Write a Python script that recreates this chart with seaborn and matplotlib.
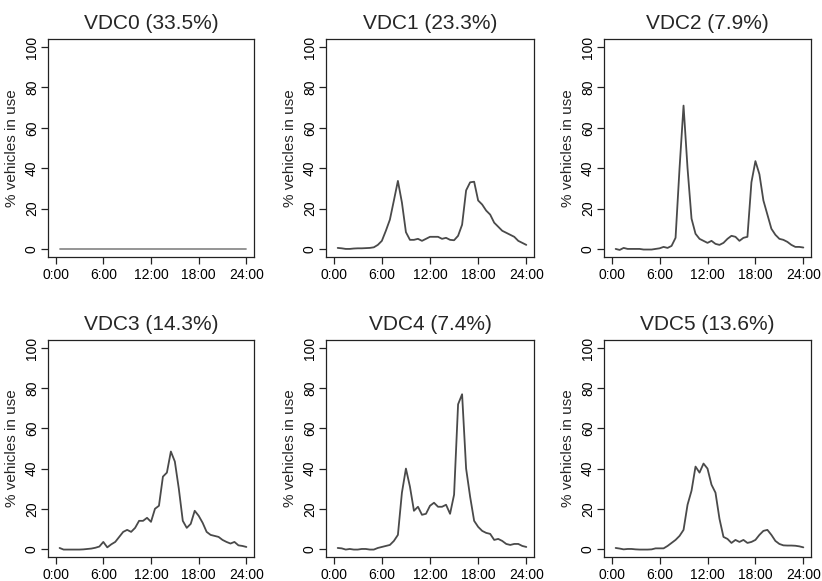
import numpy as np
import pandas as pd
import matplotlib
matplotlib.use("Agg")
import matplotlib.pyplot as plt
import seaborn as sns

hours = [0.5 * i for i in range(1, 49)]

titles = ["VDC0 (33.5%)", "VDC1 (23.3%)", "VDC2 (7.9%)",
          "VDC3 (14.3%)", "VDC4 (7.4%)", "VDC5 (13.6%)"]

vdc0 = [0.0] * 48

vdc1 = [0.5, 0.3, 0.0, 0.0, 0.2, 0.3, 0.3, 0.4, 0.5, 0.8, 2.0, 4.0,
        9.0, 14.5, 24.0, 33.7, 23.0, 8.3, 4.5, 4.5, 5.0, 4.0, 5.0, 6.0,
        6.0, 6.0, 5.0, 5.5, 4.5, 4.3, 6.5, 12.0, 29.0, 33.0, 33.3, 24.0,
        22.0, 19.0, 17.0, 13.0, 11.0, 9.0, 8.0, 7.0, 6.0, 4.0, 3.0, 2.0]

vdc2 = [0.0, -0.5, 0.5, 0.0, 0.0, 0.0, 0.0, -0.3, -0.3, -0.3, 0.0, 0.3,
        1.0, 0.5, 1.5, 5.5, 40.0, 71.0, 40.0, 15.0, 7.5, 5.0, 4.0, 3.0,
        4.0, 2.5, 2.0, 3.0, 5.0, 6.5, 6.0, 4.0, 5.5, 6.0, 33.0, 43.5,
        37.0, 24.0, 17.0, 10.0, 7.0, 5.0, 4.5, 3.5, 2.0, 1.0, 1.0, 0.7]

vdc3 = [0.5, -0.3, -0.3, -0.3, -0.3, -0.3, -0.2, 0.0, 0.2, 0.6, 1.2, 3.5,
        0.8, 2.3, 3.5, 6.0, 8.5, 9.5, 8.5, 10.5, 14.0, 14.0, 15.5, 13.5,
        20.0, 21.5, 36.0, 38.0, 48.5, 43.5, 30.0, 14.0, 10.5, 12.5, 19.0, 16.5,
        13.0, 8.5, 7.0, 6.5, 6.0, 4.5, 3.5, 2.7, 3.5, 1.8, 1.5, 1.0]

vdc4 = [0.5, 0.3, -0.3, 0.0, -0.3, -0.3, 0.0, 0.0, -0.3, -0.3, 0.5, 1.0,
        1.5, 2.0, 4.0, 7.0, 28.0, 40.0, 31.0, 19.0, 21.0, 17.0, 17.5, 21.5,
        23.0, 21.0, 21.0, 22.0, 17.5, 27.0, 72.0, 77.0, 40.0, 26.0, 14.0, 11.0,
        9.0, 8.0, 7.5, 4.5, 5.0, 4.0, 2.5, 2.0, 2.5, 2.5, 1.5, 1.0]

vdc5 = [0.5, 0.2, -0.2, 0.0, 0.0, -0.2, -0.3, -0.3, -0.3, -0.2, 0.3, 0.3,
        0.3, 1.5, 3.0, 4.5, 6.5, 9.5, 22.0, 29.0, 41.0, 38.0, 42.5, 40.0,
        32.0, 28.0, 15.0, 6.0, 5.0, 3.0, 4.5, 3.5, 4.5, 3.0, 3.5, 4.5,
        7.0, 9.0, 9.5, 7.0, 4.0, 2.5, 1.8, 1.7, 1.7, 1.6, 1.3, 0.8]

series = [vdc0, vdc1, vdc2, vdc3, vdc4, vdc5]
xticks = [0, 6, 12, 18, 24]
xticklabels = ["0:00", "6:00", "12:00", "18:00", "24:00"]
yticks = [0, 20, 40, 60, 80, 100]
ylabel = "% vehicles in use"

sns.set_style("ticks")
plt.rcParams['font.family'] = ['Liberation Sans', 'DejaVu Sans']

W, H = 822, 581
fig = plt.figure(figsize=(W / 100, H / 100), dpi=100)

lefts = [48, 326, 604]
rights = [254, 534, 811]
tops = [39, 340]
bottoms = [257, 557]

for i, (vals, title) in enumerate(zip(series, titles)):
    r, c = divmod(i, 3)
    l, rr = lefts[c], rights[c]
    t, b = tops[r], bottoms[r]
    ax = fig.add_axes([l / W, 1 - b / H, (rr - l) / W, (b - t) / H])
    df = pd.DataFrame({"hour": hours, "pct": vals})
    color = "#8c8c8c" if i == 0 else "#4a4a4a"
    sns.lineplot(data=df, x="hour", y="pct", ax=ax, color=color, linewidth=1.3)
    ax.set_xlim(-0.96, 24.96)
    ax.set_ylim(-4, 104)
    ax.set_xticks(xticks)
    ax.set_xticklabels(xticklabels)
    ax.set_yticks(yticks)
    ax.set_yticklabels([str(v) for v in yticks], rotation=90, va="center")
    ax.tick_params(axis="both", direction="out", length=5, width=0.9,
                   colors="#222222", labelsize=10, labelcolor="black")
    ax.tick_params(axis="x", pad=3)
    ax.tick_params(axis="y", pad=1.5)
    for sp in ax.spines.values():
        sp.set_visible(True)
        sp.set_linewidth(0.9)
        sp.set_color("#222222")
    ax.set_xlabel("")
    ax.set_ylabel(ylabel, fontsize=11, labelpad=4)
    ax.set_title(title, fontsize=15, pad=7)

fig.savefig("out.png", dpi=100)
